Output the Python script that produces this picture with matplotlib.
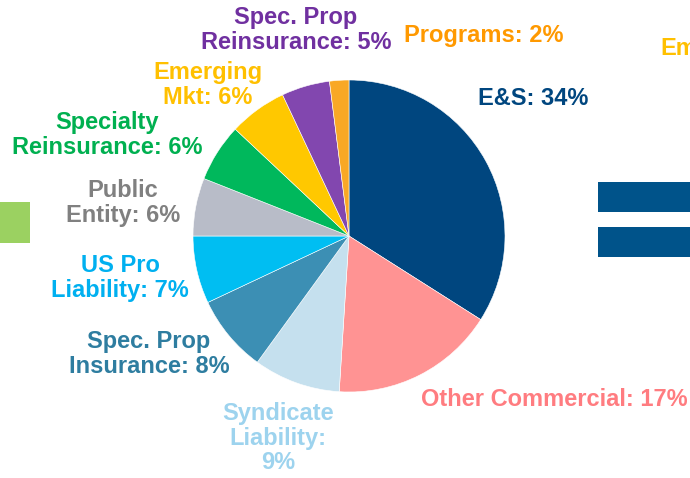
import matplotlib.pyplot as plt
from matplotlib.patches import Rectangle

plt.rcParams['font.family'] = ['Liberation Sans', 'DejaVu Sans']

# clockwise from 12 o'clock
segments = ['E&S', 'Other Commercial', 'Syndicate Liability', 'Spec. Prop Insurance',
            'US Pro Liability', 'Public Entity', 'Specialty Reinsurance', 'Emerging Mkt',
            'Spec. Prop Reinsurance', 'Programs']
shares = [34, 17, 9, 8, 7, 6, 6, 6, 5, 2]
slice_colors = ['#00467F', '#FF9393', '#C5E0EE', '#3C8FB4', '#00BEF2',
                '#B8BCC8', '#00B85C', '#FFC800', '#8247AF', '#F9A825']
label_texts = ['E&S: 34%', 'Other Commercial: 17%', 'Syndicate\nLiability:\n9%',
               'Spec. Prop\nInsurance: 8%', 'US Pro\nLiability: 7%', 'Public\nEntity: 6%',
               'Specialty\nReinsurance: 6%', 'Emerging\nMkt: 6%',
               'Spec. Prop\nReinsurance: 5%', 'Programs: 2%']
label_colors = ['#00467F', '#FF7C80', '#9DD3EE', '#2E7DA0', '#00B0F0',
                '#808080', '#00B050', '#FFC000', '#7030A0', '#FF9900']
# label centres in pixel coords (x, y from top)
label_pos = [(533, 98), (554, 399), (278, 438), (149, 354), (120, 278),
             (123, 203), (107, 135), (208, 85), (296, 30), (484, 35)]

W, H = 690, 478
fig = plt.figure(figsize=(W / 100, H / 100), dpi=100)
ax = fig.add_axes([0, 0, 1, 1])
ax.set_xlim(0, W)
ax.set_ylim(0, H)
ax.set_aspect('equal')
ax.axis('off')

ax.pie(shares, colors=slice_colors, startangle=90, counterclock=False,
       center=(349, H - 236), radius=156,
       wedgeprops=dict(edgecolor='white', linewidth=0.4))

for txt, col, (x, y) in zip(label_texts, label_colors, label_pos):
    ax.text(x, H - y, txt, color=col, fontsize=17, fontweight='bold',
            ha='center', va='center', linespacing=1.08)

# cropped bits of the surrounding slide
ax.add_patch(Rectangle((0, H - 243), 30, 41, color='#9BD161', lw=0))
ax.add_patch(Rectangle((598, H - 212), 100, 30, color='#00538A', lw=0))
ax.add_patch(Rectangle((598, H - 257), 100, 30, color='#00538A', lw=0))
ax.text(660, H - 48, 'Em', color='#FFC000', fontsize=17, fontweight='bold',
        ha='left', va='center')

ax.set_xlim(0, W)
ax.set_ylim(0, H)
fig.savefig('out.png', dpi=100)
